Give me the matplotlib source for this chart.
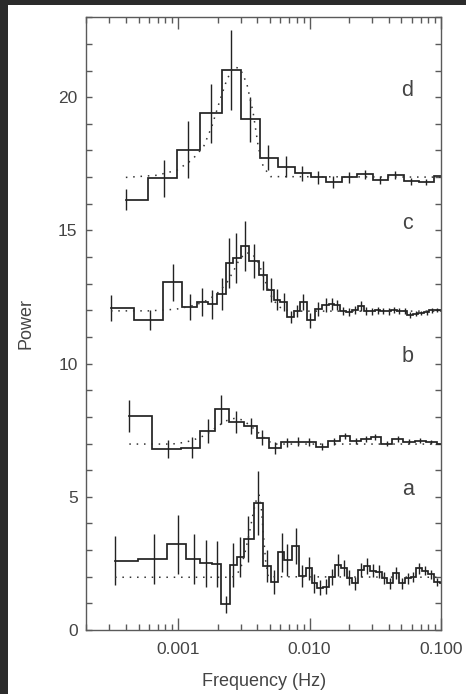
import matplotlib
matplotlib.use("Agg")
import matplotlib.pyplot as plt
from matplotlib.patches import Rectangle
from matplotlib.ticker import FixedLocator, FixedFormatter, LogLocator, NullFormatter, MultipleLocator

plt.rcParams['font.family'] = ['Liberation Sans', 'DejaVu Sans']

# ---------------- data ----------------
# Panel a
a_freq = [3.31e-4, 6.57e-4, 9.9e-4, 1.31e-3, 1.64e-3, 1.97e-3, 2.30e-3, 2.63e-3, 2.96e-3,
          3.42e-3, 4.07e-3, 4.77e-3, 5.36e-3, 6.12e-3, 6.76e-3, 7.83e-3, 8.78e-3, 9.9e-3,
          1.08e-2, 1.21e-2, 1.34e-2, 1.48e-2, 1.64e-2, 1.82e-2, 2.01e-2, 2.23e-2, 2.47e-2,
          2.73e-2, 3.02e-2, 3.35e-2, 3.71e-2, 4.10e-2, 4.54e-2, 5.03e-2, 5.57e-2, 6.17e-2,
          6.83e-2, 7.56e-2, 8.37e-2, 9.27e-2, 1.026e-1]
a_power = [2.60, 2.66, 3.21, 2.66, 2.50, 2.48, 0.96, 2.44, 2.73,
           3.41, 4.75, 2.41, 1.81, 2.91, 2.63, 3.15, 2.03, 2.31,
           1.75, 1.59, 1.63, 2.00, 2.44, 2.31, 1.96, 1.75, 2.25,
           2.40, 2.23, 2.19, 1.94, 1.75, 2.13, 1.75, 1.94, 1.98,
           2.31, 2.23, 2.10, 1.80, 1.75]
a_err = [0.92, 0.93, 1.10, 0.93, 0.87, 0.85, 0.33, 0.84, 0.75,
         0.86, 1.20, 0.60, 0.44, 0.72, 0.60, 0.68, 0.40, 0.43,
         0.35, 0.27, 0.28, 0.30, 0.40, 0.30, 0.28, 0.25, 0.27,
         0.30, 0.25, 0.24, 0.22, 0.20, 0.22, 0.20, 0.20, 0.18,
         0.20, 0.18, 0.17, 0.16, 0.15]
a_model_freq = [3.31e-4, 2.58e-3, 2.82e-3, 3.05e-3, 3.26e-3, 3.5e-3, 3.73e-3, 3.96e-3,
                4.12e-3, 4.29e-3, 4.45e-3, 4.63e-3, 4.85e-3, 1.0e-1]
a_model_power = [1.98, 1.98, 2.10, 2.45, 3.00, 3.70, 4.40, 4.95,
                 5.07, 4.60, 3.60, 2.60, 2.00, 1.98]

# Panel b
b_freq = [4.25e-4, 8.44e-4, 1.27e-3, 1.68e-3, 2.11e-3, 2.74e-3, 3.57e-3, 4.37e-3,
          5.46e-3, 6.76e-3, 8.19e-3, 9.9e-3, 1.25e-2, 1.53e-2, 1.85e-2, 2.24e-2,
          2.67e-2, 3.16e-2, 3.85e-2, 4.69e-2, 5.67e-2, 6.95e-2, 8.46e-2, 1.03e-1]
b_power = [8.04, 6.78, 6.84, 7.48, 8.28, 7.82, 7.65, 7.22,
           6.84, 7.04, 7.07, 7.04, 6.88, 7.08, 7.28, 7.10,
           7.17, 7.25, 7.00, 7.17, 7.07, 7.10, 7.07, 7.00]
b_err = [0.59, 0.34, 0.39, 0.45, 0.56, 0.41, 0.30, 0.28,
         0.22, 0.18, 0.16, 0.15, 0.14, 0.13, 0.12, 0.12,
         0.11, 0.10, 0.10, 0.10, 0.09, 0.09, 0.08, 0.08]
b_model_freq = [4.25e-4, 9.0e-4, 1.144e-3, 1.363e-3, 1.623e-3, 1.933e-3, 2.302e-3,
                2.662e-3, 3.077e-3, 3.565e-3, 4.12e-3, 4.77e-3, 5.36e-3, 1.0e-1]
b_model_power = [6.98, 6.98, 7.05, 7.17, 7.32, 7.60, 7.85,
                 7.94, 7.89, 7.66, 7.39, 7.11, 6.98, 6.98]

# Panel c
c_freq = [3.08e-4, 6.13e-4, 9.16e-4, 1.227e-3, 1.531e-3, 1.824e-3, 2.145e-3, 2.44e-3,
          2.77e-3, 3.205e-3, 3.775e-3, 4.45e-3, 5.05e-3, 5.62e-3, 6.38e-3, 7.17e-3,
          7.96e-3, 8.95e-3, 1.016e-2, 1.165e-2, 1.33e-2, 1.47e-2, 1.62e-2, 1.80e-2,
          1.99e-2, 2.20e-2, 2.45e-2, 2.70e-2, 3.0e-2, 3.3e-2, 3.6e-2, 4.0e-2,
          4.4e-2, 4.8e-2, 5.3e-2, 5.8e-2, 6.4e-2, 7.0e-2, 7.8e-2, 8.5e-2,
          9.4e-2, 1.04e-1]
c_power = [12.09, 11.63, 13.05, 12.11, 12.32, 12.23, 12.61, 13.78,
           13.97, 14.42, 13.86, 13.32, 12.76, 12.40, 12.32, 11.76,
           11.98, 12.30, 11.63, 12.05, 12.21, 12.23, 12.20, 11.97,
           11.92, 12.03, 12.17, 11.97, 11.97, 12.00, 11.98, 11.96,
           12.00, 11.97, 11.98, 11.82, 11.88, 11.90, 11.93, 12.00,
           12.02, 12.00]
c_err = [0.48, 0.37, 0.70, 0.49, 0.53, 0.54, 0.61, 0.95,
         0.93, 0.94, 0.63, 0.55, 0.45, 0.40, 0.34, 0.22,
         0.22, 0.30, 0.28, 0.25, 0.26, 0.22, 0.20, 0.16,
         0.15, 0.15, 0.18, 0.14, 0.13, 0.13, 0.12, 0.12,
         0.11, 0.11, 0.10, 0.10, 0.10, 0.09, 0.09, 0.09,
         0.08, 0.08]
c_model_freq = [3.08e-4, 6.0e-4, 9.6e-4, 1.36e-3, 1.72e-3, 2.05e-3, 2.37e-3, 2.66e-3,
                2.9e-3, 3.26e-3, 3.66e-3, 4.12e-3, 4.5e-3, 5.2e-3, 5.85e-3, 6.97e-3, 1.0e-1]
c_model_power = [11.98, 11.98, 12.04, 12.20, 12.41, 12.70, 13.07, 13.51,
                 13.88, 14.16, 14.13, 13.76, 13.20, 12.45, 12.13, 11.97, 11.97]

# Panel d
d_freq = [4.0e-4, 7.8e-4, 1.18e-3, 1.77e-3, 2.51e-3, 3.5e-3, 4.85e-3, 6.57e-3, 8.79e-3,
          1.156e-2, 1.51e-2, 1.99e-2, 2.63e-2, 3.42e-2, 4.5e-2, 5.9e-2, 7.7e-2, 1.01e-1]
d_power = [16.16, 16.96, 18.02, 19.39, 21.01, 19.17, 17.72, 17.39, 17.14,
           16.99, 16.82, 16.99, 17.10, 16.89, 17.08, 16.85, 16.81, 17.04]
d_err = [0.39, 0.69, 1.07, 1.10, 1.50, 0.85, 0.47, 0.40, 0.28,
         0.25, 0.22, 0.20, 0.18, 0.16, 0.15, 0.13, 0.12, 0.11]
d_model_freq = [4.0e-4, 6.89e-4, 9.77e-4, 1.27e-3, 1.56e-3, 1.8e-3, 2.08e-3, 2.34e-3,
                2.63e-3, 2.96e-3, 3.33e-3, 3.73e-3, 4.07e-3, 4.44e-3, 5.05e-3, 1.0e-1]
d_model_power = [16.99, 17.07, 17.26, 17.64, 18.14, 18.89, 19.89, 20.64,
                 21.14, 21.08, 20.51, 19.39, 18.14, 17.39, 17.02, 17.00]

panel_labels = ['a', 'b', 'c', 'd']
x_ticks = [1e-3, 1e-2, 1e-1]
x_tick_labels = ['0.001', '0.010', '0.100']

# ---------------- figure ----------------
W, H = 466, 694
fig = plt.figure(figsize=(W / 100, H / 100), dpi=100)
fig.patch.set_facecolor('white')
ax = fig.add_axes([86.3 / W, 1 - 630 / H, (441 - 86.3) / W, (630 - 17.3) / H])

line_col = '#222222'
text_col = '#444444'
spine_col = '#5a5a5a'

panels = [
    (a_freq, a_power, a_err, a_model_freq, a_model_power),
    (b_freq, b_power, b_err, b_model_freq, b_model_power),
    (c_freq, c_power, c_err, c_model_freq, c_model_power),
    (d_freq, d_power, d_err, d_model_freq, d_model_power),
]
label_base = [5.05, 10.05, 15.05, 20.05]

for (f, p, e, mf, mp), lab, yb in zip(panels, panel_labels, label_base):
    ax.plot(f, p, drawstyle='steps-mid', color=line_col, lw=1.25, solid_joinstyle='miter')
    ax.errorbar(f, p, yerr=e, fmt='none', ecolor=line_col, elinewidth=1.0, capsize=0)
    ax.plot(mf, mp, color='#333333', lw=1.1, linestyle=(0, (1, 3.8)))
    ax.text(5.57e-2, yb, lab, ha='center', va='baseline', fontsize=15.5, color=text_col)

ax.set_xscale('log')
ax.set_xlim(2e-4, 0.1)
ax.set_ylim(0, 23)

ax.xaxis.set_major_locator(FixedLocator(x_ticks))
ax.xaxis.set_major_formatter(FixedFormatter(x_tick_labels))
ax.xaxis.set_minor_locator(LogLocator(base=10, subs=[2, 3, 4, 5, 6, 7, 8, 9], numticks=20))
ax.xaxis.set_minor_formatter(NullFormatter())
ax.yaxis.set_major_locator(MultipleLocator(5))
ax.yaxis.set_minor_locator(MultipleLocator(1))

ax.tick_params(which='both', direction='in', top=True, right=True, color=spine_col,
               width=1.0, labelcolor=text_col, labelsize=12.5)
ax.tick_params(axis='x', which='major', length=8.6, pad=8.5)
ax.tick_params(axis='x', which='minor', length=4.3)
ax.tick_params(axis='y', which='both', length=4.3, pad=6.3)

for s in ax.spines.values():
    s.set_color(spine_col)
    s.set_linewidth(1.0)

ax.set_xlabel('Frequency (Hz)', fontsize=13, color=text_col, labelpad=11.5)
ax.set_ylabel('Power', fontsize=13, color=text_col, labelpad=17)

# dark frame strips of the reference screenshot
fig.add_artist(Rectangle((0, 1 - 5 / H), 1, 5 / H, transform=fig.transFigure,
                         facecolor='#2b2b2b', edgecolor='none'))
fig.add_artist(Rectangle((0, 0), 8 / W, 1, transform=fig.transFigure,
                         facecolor='#2b2b2b', edgecolor='none'))

fig.savefig('out.png', dpi=100)
